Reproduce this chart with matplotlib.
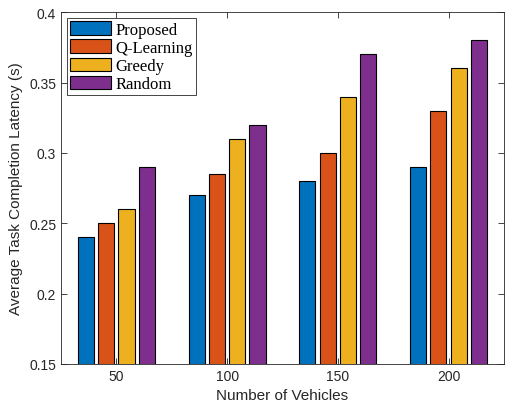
import matplotlib
matplotlib.use("Agg")
import matplotlib.pyplot as plt
import numpy as np

# latency results per vehicle count
vehicles = ["50", "100", "150", "200"]
methods = ["Proposed", "Q-Learning", "Greedy", "Random"]
proposed = [0.24, 0.27, 0.28, 0.29]
q_learning = [0.25, 0.285, 0.30, 0.33]
greedy = [0.26, 0.31, 0.34, 0.36]
random_policy = [0.29, 0.32, 0.37, 0.38]

colors = ["#0072BD", "#D95319", "#EDB120", "#7E2F8E"]
axis_color = "#262626"

plt.rcParams["font.family"] = ["Liberation Sans", "DejaVu Sans"]

fig = plt.figure(figsize=(5.05, 4.1), dpi=100)
ax = fig.add_axes([0.1208, 0.1098, 0.877, 0.858])

x = np.arange(1, len(vehicles) + 1)
step = 0.183
width = 0.145
series = [proposed, q_learning, greedy, random_policy]
for i, vals in enumerate(series):
    ax.bar(x + (i - 1.5) * step, vals, width, color=colors[i],
           edgecolor="black", linewidth=0.8, label=methods[i], zorder=3)

ax.set_xlim(0.5, 4.5)
ax.set_ylim(0.15, 0.4)
ax.set_xticks(x)
ax.set_xticklabels(vehicles)
ax.set_yticks([0.15, 0.2, 0.25, 0.3, 0.35, 0.4])
ax.set_yticklabels(["0.15", "0.2", "0.25", "0.3", "0.35", "0.4"])
ax.tick_params(direction="in", top=True, right=True, length=4, width=0.6,
               colors=axis_color, labelsize=10, labelcolor=axis_color)
for s in ax.spines.values():
    s.set_linewidth(0.6)
    s.set_color(axis_color)

ax.set_xlabel("Number of Vehicles", fontsize=11, color=axis_color)
ax.set_ylabel("Average Task Completion Latency (s)", fontsize=11, color=axis_color)

leg = ax.legend(loc="upper left", prop={"family": "Liberation Serif", "size": 12},
                fancybox=False, framealpha=1, edgecolor=axis_color,
                handlelength=2.45, handleheight=0.85, handletextpad=0.25,
                labelspacing=0.1, borderpad=0.2, borderaxespad=0.35)
leg.get_frame().set_linewidth(0.6)

fig.savefig("out.png", dpi=100)
